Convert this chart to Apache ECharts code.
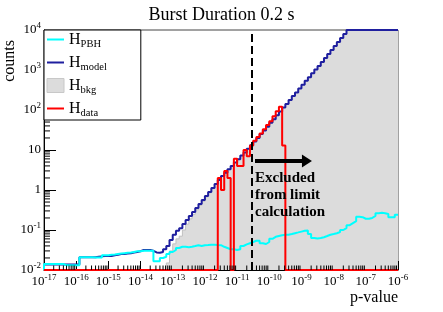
<!DOCTYPE html>
<html><head><meta charset="utf-8">
<script src="https://cdn.jsdelivr.net/npm/echarts@6/dist/echarts.min.js"></script>
<style>html,body{margin:0;padding:0;background:#fff}#c{width:443px;height:312px}</style>
</head><body><div id="c"></div>
<script>
const titleText = 'Burst Duration 0.2 s';
const xAxisTitle = 'p-value';
const yAxisTitle = 'counts';
// binning: 110 bins, 0.1 decade wide, from 1e-17 to 1e-6
const log10BinStart = -17, log10BinWidth = 0.1, nBins = 110;
const xMin = 1e-17, xMax = 1e-6, yMin = 1e-2, yMax = 1e4;

const modelCounts = [
  0.0138,0.0138,0.0138,0.0138,0.0138,0.0138,0.0138,0.0138,0.0138,0.0138,
  0.0138,0.0209,0.0209,0.0209,0.0209,0.0209,0.0214,0.0219,0.0224,0.0224,
  0.0224,0.0234,0.0240,0.0251,0.0251,0.0257,0.0263,0.0275,0.0282,0.0295,
  0.0316,0.0316,0.0316,0.0302,0.0275,0.0269,0.0282,0.0331,0.0398,0.0562,
  0.0759,0.0955,0.110,0.141,
  0.178,0.224,0.282,0.355,0.447,0.562,0.708,0.891,1.12,1.41,
  1.78,2.24,2.69,3.31,3.98,4.90,5.89,7.24,8.71,10.7,
  13.2,16.2,20.0,25.1,30.9,38.0,47.9,58.9,74.1,91.2,
  115,141,178,224,275,347,427,537,661,832,
  1023,1259,1585,1995,2512,3162,3981,5012,6310,7943,
  10000,10000,10000,10000,10000,10000,10000,10000,10000,10000,
  10000,10000,10000,10000,10000,10000
];
const pbhCounts = [
  0.0141,0.0141,0.0141,0.0141,0.0141,0.0141,0.0132,0.0132,0.0132,0.0132,
  0.0132,0.0209,0.0209,0.0209,0.0209,0.0204,0.0204,0.0204,0.0234,0.0234,
  0.0240,0.0245,0.0251,0.0257,0.0263,0.0269,0.0275,0.0282,0.0295,0.0295,
  0.0302,0.0302,0.0302,0.0302,0.0166,0.0166,0.0200,0.0214,0.0251,0.0282,
  0.0316,0.0355,0.0380,0.0380,0.0372,0.0380,0.0398,0.0417,0.0400,0.0417,
  0.0420,0.0430,0.0430,0.0420,0.0417,0.0380,0.0355,0.0331,0.0331,0.0316,
  0.0331,0.0398,0.0437,0.0468,0.0501,0.0537,0.0537,0.0468,0.0447,0.0501,
  0.0603,0.0676,0.0708,0.0741,0.0759,0.0759,0.0794,0.0832,0.0871,0.0912,
  0.0955,0.0977,0.0794,0.0631,0.0617,0.0631,0.0661,0.0708,0.0759,0.0794,
  0.0832,0.0891,0.100,0.112,0.132,0.148,0.166,0.214,0.209,0.191,
  0.191,0.200,0.224,0.263,0.269,0.263,0.251,0.209,0.209,0.240
];
const bkgCounts = [
  0,0,0,0,0,0,0,0,0,0,
  0,0,0,0,0,0,0,0,0,0,
  0,0,0,0,0,0,0,0,0,0,
  0,0,0,0,0,0,0,0,0.015,0.030,
  0.045,0.060,0.070,0.100,0.140,0.190,0.245,0.320,0.410,0.520,
  0.670,0.850,1.08,1.37,1.74,2.20,2.65,3.28,3.95,4.87,
  5.86,7.20,8.67,10.65,13.15,16.15,19.95,25.05,30.85,38.0,
  47.8,58.8,74.0,91.1,115,141,178,224,275,347,
  427,537,661,832,1023,1259,1585,1995,2512,3162,
  3981,5012,6310,7943,10000,10000,10000,10000,10000,10000,
  10000,10000,10000,10000,10000,10000,10000,10000,10000,10000
];
const dataCounts = [
  0,0,0,0,0,0,0,0,0,0,
  0,0,0,0,0,0,0,0,0,0,
  0,0,0,0,0,0,0,0,0,0,
  0,0,0,0,0,0,0,0,0,0,
  0,0,0,0,0,0,0,0,0,0,
  0,0,0,0,2,1,3,2,0,6,
  4,4,10,7,13,17,21,26,33,42,
  52,70,93,120,13,0,0,0,0,0,
  0,0,0,0,0,0,0,0,0,0,
  0,0,0,0,0,0,0,0,0,0,
  0,0,0,0,0,0,0,0,0,0
];
const cutP = 2.85e-11;
const arrowFrom = [3.6e-11, 5.3];
const arrowTo = [1.48e-9, 5.3];
const noteAt = [3.6e-11, 3.16];
const noteText = 'Excluded\nfrom limit\ncalculation';
const legendLabels = { PBH: 'PBH', model: 'model', bkg: 'bkg', data: 'data' };
// log-paper minor tick multipliers
const minorMultipliers = [2, 3, 4, 5, 6, 7, 8, 9];
const xDecades = [-17,-16,-15,-14,-13,-12,-11,-10,-9,-8,-7];
const yDecades = [-2,-1,0,1,2,3];

const FONT = 'Liberation Serif';
function edge(i) { return Math.pow(10, log10BinStart + log10BinWidth * i); }
function hist(vals) {
  const pts = [[edge(0), yMin]];
  for (let i = 0; i < vals.length; i++) pts.push([edge(i), Math.max(vals[i], yMin)]);
  pts.push([edge(vals.length), Math.max(vals[vals.length - 1], yMin)]);
  return pts;
}
function minorVals(decades) {
  const out = [];
  decades.forEach(d => minorMultipliers.forEach(m => out.push(m * Math.pow(10, d))));
  return out;
}
function powLabel(v) {
  const e = Math.round(Math.log10(v));
  if (e === 0) return '{b|1}';
  if (e === 1) return '{b|10}';
  return '{b|10}{e|' + (e < 0 ? '-' : '') + Math.abs(e) + '}';
}
const labelRich = {
  b: { fontSize: 13, fontFamily: FONT, color: '#000', lineHeight: 17 },
  e: { fontSize: 9, fontFamily: FONT, color: '#000', lineHeight: 9, verticalAlign: 'top' }
};
const lineIcon = 'path://M0,0 L17,0 L17,2 L0,2 Z';

const chart = echarts.init(document.getElementById('c'), null, { renderer: 'canvas' });
chart.setOption({
  animation: false,
  backgroundColor: '#fff',
  title: {
    text: titleText, left: 'center', top: 1,
    textStyle: { fontFamily: FONT, fontSize: 18, fontWeight: 'normal', color: '#000' }
  },
  grid: { left: 44, right: 45, top: 30, bottom: 42, show: true, borderColor: '#444', borderWidth: 1, backgroundColor: 'transparent' },
  legend: {
    orient: 'vertical', left: 44, top: 30, selectedMode: false, z: 20,
    backgroundColor: '#fff', borderColor: '#000', borderWidth: 1,
    padding: [1.5, 34, 1.5, 2.5], itemGap: 5, itemWidth: 17, itemHeight: 14,
    formatter: n => '{h|H}{s|' + legendLabels[n] + '}',
    textStyle: {
      fontFamily: FONT, color: '#000',
      rich: {
        h: { fontSize: 16, fontFamily: FONT, color: '#000', lineHeight: 20 },
        s: { fontSize: 10.5, fontFamily: FONT, color: '#000', lineHeight: 8, verticalAlign: 'bottom' }
      }
    },
    data: [
      { name: 'PBH', icon: lineIcon, itemStyle: { color: '#00ffff' } },
      { name: 'model', icon: lineIcon, itemStyle: { color: '#1f1f9f' } },
      { name: 'bkg', icon: 'rect', itemStyle: { color: '#dcdcdc', borderColor: '#c8c8c8', borderWidth: 1 } },
      { name: 'data', icon: lineIcon, itemStyle: { color: '#ff0000' } }
    ]
  },
  xAxis: {
    type: 'log', logBase: 10, min: xMin, max: xMax, interval: 1,
    name: xAxisTitle, nameLocation: 'end', nameGap: 0,
    nameTextStyle: { fontFamily: FONT, fontSize: 16, color: '#000', align: 'right', verticalAlign: 'top', padding: [20, 0, 0, 0] },
    axisLine: { show: true, onZero: false, lineStyle: { color: '#000', width: 1 } },
    axisTick: { show: true, inside: true, length: 9, lineStyle: { color: '#000' } },
    splitLine: { show: false },
    axisLabel: { margin: 3, formatter: powLabel, rich: labelRich }
  },
  yAxis: {
    type: 'log', logBase: 10, min: yMin, max: yMax, interval: 1,
    name: yAxisTitle, nameLocation: 'end', nameGap: 0, nameRotate: 90,
    nameTextStyle: { fontFamily: FONT, fontSize: 16, color: '#000', align: 'right', verticalAlign: 'bottom', padding: [0, 10, 26, 0] },
    axisLine: { show: true, onZero: false, lineStyle: { color: '#000', width: 1 } },
    axisTick: { show: true, inside: true, length: 12, lineStyle: { color: '#000' } },
    splitLine: { show: false },
    axisLabel: { margin: 3, formatter: powLabel, rich: labelRich }
  },
  series: [
    {
      name: 'bkg', type: 'line', step: 'end', data: hist(bkgCounts), symbol: 'none',
      lineStyle: { color: '#c0c0c0', width: 1 }, itemStyle: { color: '#dcdcdc' },
      areaStyle: { color: '#dcdcdc', opacity: 1, origin: 'start' }, z: 1
    },
    {
      name: 'model', type: 'line', step: 'end', data: hist(modelCounts), symbol: 'none', clip: false,
      lineStyle: { color: '#1f1f9f', width: 2 }, itemStyle: { color: '#1f1f9f' }, z: 2
    },
    {
      name: 'PBH', type: 'line', step: 'end', data: hist(pbhCounts), symbol: 'none',
      lineStyle: { color: '#00ffff', width: 2 }, itemStyle: { color: '#00ffff' }, z: 3
    },
    {
      name: 'data', type: 'line', step: 'end', data: hist(dataCounts), symbol: 'none', clip: false,
      lineStyle: { color: '#ff0000', width: 2 }, itemStyle: { color: '#ff0000' }, z: 4,
      markLine: {
        silent: true, animation: false, symbol: 'none', label: { show: false },
        data: [
          [
            { coord: [cutP, yMin], symbol: 'none', lineStyle: { color: '#000', width: 2, type: [8, 4] } },
            { coord: [cutP, yMax], symbol: 'none' }
          ],
          [
            { coord: arrowFrom, symbol: 'none', lineStyle: { color: '#000', width: 4, type: 'solid' } },
            { coord: arrowTo, symbol: 'triangle', symbolSize: [13, 10] }
          ]
        ]
      },
      markPoint: {
        silent: true, symbol: 'circle', symbolSize: 0,
        data: [{ coord: noteAt }],
        label: {
          show: true, position: [0, 0], align: 'left', verticalAlign: 'top',
          formatter: noteText, fontFamily: FONT, fontSize: 15, fontWeight: 'bold',
          lineHeight: 17, color: '#000'
        }
      }
    },
    {
      name: 'xMinorTicks', type: 'custom', silent: true, clip: false, z: 5,
      data: minorVals(xDecades).map(v => [v, yMin]),
      renderItem: (params, api) => {
        const p = api.coord([api.value(0), yMin]);
        return { type: 'line', shape: { x1: p[0], y1: p[1], x2: p[0], y2: p[1] - 4.5 }, style: { stroke: '#000', lineWidth: 1 } };
      }
    },
    {
      name: 'yMinorTicks', type: 'custom', silent: true, clip: false, z: 5,
      data: minorVals(yDecades).map(v => [xMin, v]),
      renderItem: (params, api) => {
        const p = api.coord([xMin, api.value(1)]);
        return { type: 'line', shape: { x1: p[0], y1: p[1], x2: p[0] + 6, y2: p[1] }, style: { stroke: '#000', lineWidth: 1 } };
      }
    }
  ]
});
</script></body></html>
